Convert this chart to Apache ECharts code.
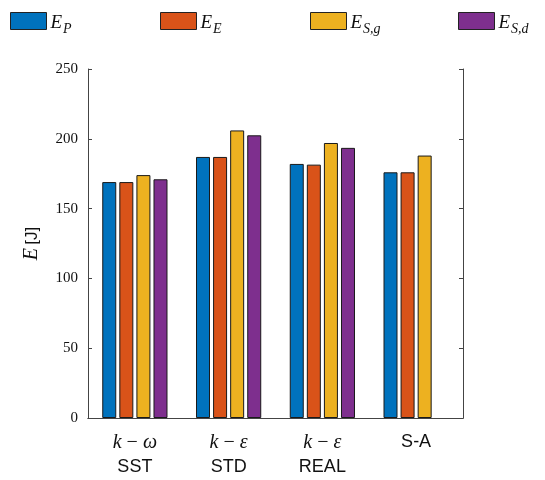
<!DOCTYPE html>
<html>
<head>
<meta charset="utf-8">
<script src="https://cdn.jsdelivr.net/npm/echarts@6/dist/echarts.min.js"></script>
<style>
  html, body { margin: 0; padding: 0; background: #fff; }
  #chart { width: 545px; height: 480px; }
</style>
</head>
<body>
<div id="chart"></div>
<script>
// Turbulence models (category axis) and energy values in joules
const models = ['kw_SST', 'ke_STD', 'ke_REAL', 'SA'];
const modelLabels = [
  '{it|k}{up| − }{it|ω}\n{sf|SST}',
  '{it|k}{up| − }{it|ε}\n{sf|STD}',
  '{it|k}{up| − }{it|ε}\n{sf|REAL}',
  '{sf|S-A}\n{sf| }'
];
const E_P  = [169, 187, 182, 176];
const E_E  = [169, 187, 181.5, 176];
const E_Sg = [174, 206, 197, 188];
const E_Sd = [171, 202.5, 193.5, null];
const yTicks = { min: 0, max: 250, interval: 50 };

const seriesDefs = [
  { name: 'EP',  sub: 'P',   color: '#0072BD', data: E_P,  left: 10 },
  { name: 'EE',  sub: 'E',   color: '#D95319', data: E_E,  left: 160 },
  { name: 'ESg', sub: 'S,g', color: '#EDB120', data: E_Sg, left: 310 },
  { name: 'ESd', sub: 'S,d', color: '#7E2F8E', data: E_Sd, left: 458 }
];

const serif = 'Liberation Serif';
const sans = 'Liberation Sans';
const axisColor = '#444';

const legendRich = {
  e: { fontFamily: serif, fontStyle: 'italic', fontSize: 19, color: '#111', lineHeight: 19, padding: [4, 0, 0, 0] },
  s: { fontFamily: serif, fontStyle: 'italic', fontSize: 14, color: '#111', lineHeight: 14, padding: [16, 0, 0, 1] }
};

const chart = echarts.init(document.getElementById('chart'), null, { renderer: 'canvas' });

chart.setOption({
  animation: false,
  backgroundColor: '#fff',
  legend: seriesDefs.map(d => ({
    data: [d.name],
    left: d.left,
    top: 6,
    padding: 0,
    itemWidth: 36,
    itemHeight: 17,
    itemGap: 4,
    icon: 'rect',
    itemStyle: { borderColor: '#222', borderWidth: 1 },
    formatter: () => '{e|E}{s|' + d.sub + '}',
    textStyle: { rich: legendRich, padding: [0, 0, 0, -1] }
  })),
  grid: { left: 88, right: 82, top: 69, bottom: 62 },
  xAxis: [
    {
      type: 'category',
      data: models,
      position: 'bottom',
      axisLine: { lineStyle: { color: axisColor, width: 1 } },
      axisTick: { inside: true, alignWithLabel: true, length: 4, lineStyle: { color: axisColor } },
      axisLabel: {
        interval: 0,
        margin: 12,
        formatter: (v, i) => modelLabels[i],
        rich: {
          it: { fontFamily: serif, fontStyle: 'italic', fontSize: 20, color: '#111', lineHeight: 25 },
          up: { fontFamily: serif, fontSize: 20, color: '#111', lineHeight: 25 },
          sf: { fontFamily: sans, fontSize: 18, color: '#111', lineHeight: 25 }
        }
      }
    },
    {
      type: 'category',
      data: models,
      position: 'top',
      axisLine: { lineStyle: { color: axisColor, width: 1 } },
      axisTick: { inside: true, alignWithLabel: true, length: 4, lineStyle: { color: axisColor } },
      axisLabel: { show: false }
    }
  ],
  yAxis: [
    {
      type: 'value',
      min: yTicks.min, max: yTicks.max, interval: yTicks.interval,
      position: 'left',
      name: '{it|E} {sf|[J]}',
      nameLocation: 'middle',
      nameGap: 46,
      nameRotate: 90,
      nameTextStyle: {
        rich: {
          it: { fontFamily: serif, fontStyle: 'italic', fontSize: 20, color: '#111' },
          sf: { fontFamily: sans, fontSize: 17, color: '#111' }
        }
      },
      axisLine: { show: true, lineStyle: { color: axisColor, width: 1 } },
      axisTick: { show: true, inside: true, length: 4, lineStyle: { color: axisColor } },
      axisLabel: { fontFamily: serif, fontSize: 15, color: '#111', margin: 10 },
      splitLine: { show: false }
    },
    {
      type: 'value',
      min: yTicks.min, max: yTicks.max, interval: yTicks.interval,
      position: 'right',
      axisLine: { show: true, lineStyle: { color: axisColor, width: 1 } },
      axisTick: { show: true, inside: true, length: 4, lineStyle: { color: axisColor } },
      axisLabel: { show: false },
      splitLine: { show: false }
    }
  ],
  series: seriesDefs.map(d => ({
    name: d.name,
    type: 'bar',
    data: d.data,
    barWidth: 14,
    barGap: '22%',
    itemStyle: { color: d.color, borderColor: '#1a1a1a', borderWidth: 1 }
  }))
});
</script>
</body>
</html>
